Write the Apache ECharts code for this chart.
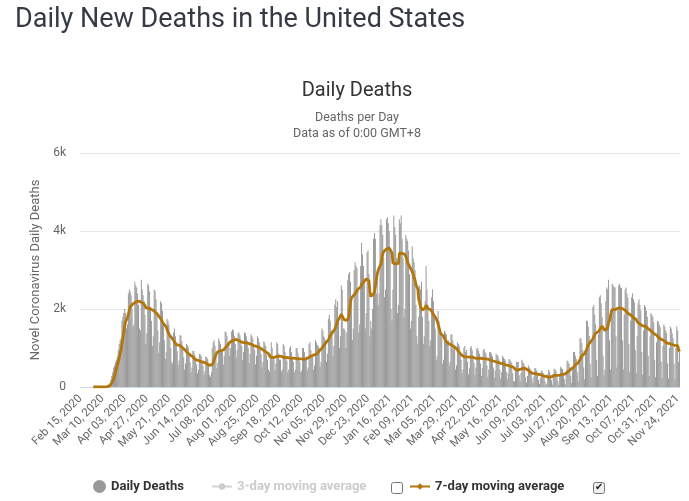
<!DOCTYPE html>
<html>
<head>
<meta charset="utf-8">
<script src="https://cdn.jsdelivr.net/npm/echarts@6/dist/echarts.min.js"></script>
<style>
html,body{margin:0;padding:0;background:#fff;}
#chart{width:689px;height:501px;}
</style>
</head>
<body>
<div id="chart"></div>
<script>
// First date shown and number of daily points (Feb 15, 2020 .. Nov 26, 2021)
var startDate = [2020, 1, 15];
var dayCount = 651;
var yTicks = [0, 2000, 4000, 6000];
var yTickLabels = ['0', '2k', '4k', '6k'];

// Daily deaths, one row per week (Sat..Fri)
var dailyDeaths = [
0,0,0,0,0,0,0,
0,0,0,0,0,0,0,
1,0,3,1,4,1,2,
3,4,4,5,8,7,10,
20,25,40,60,90,180,280,
380,500,560,640,700,780,950,
1100,1200,1250,1700,1800,1900,2000,
1900,1500,1600,2400,2500,2450,2350,
2000,1550,1600,2700,2600,2550,2400,
2100,1500,1450,2750,2500,2350,2200,
1850,1100,1380,2650,2600,2450,2050,
1700,1050,1300,2500,2450,2250,1900,
1450,880,1150,2200,2150,1950,1650,
1200,720,900,1750,1700,1600,1350,
1000,640,600,1400,1500,1300,1150,
920,560,680,1330,1320,1180,1000,
760,450,600,1100,1080,1020,850,
640,380,500,930,920,830,700,
580,350,440,850,840,780,640,
540,320,400,780,760,720,600,
300,260,380,1000,1150,1200,1050,
820,480,620,1250,1180,1100,950,
960,580,800,1420,1400,1300,1150,
1150,800,1000,1420,1480,1450,1300,
1100,750,950,1380,1400,1320,1220,
1050,700,900,1400,1380,1300,1180,
1000,620,850,1350,1300,1250,1050,
950,580,800,1300,1250,1150,970,
840,500,650,1180,1120,1050,820,
700,450,400,850,1150,1000,700,
720,420,600,1150,1100,860,700,
700,400,450,1100,1050,900,720,
680,380,450,1000,1050,900,720,
650,380,440,1000,1000,880,690,
650,380,420,1000,1000,900,690,
700,420,500,1100,1150,950,780,
820,450,550,1200,1150,1080,1050,
1000,520,650,1500,1450,1300,1250,
1200,650,850,1750,1850,1700,1450,
1450,800,1050,2100,2250,2050,2200,
1700,1000,1300,2600,2500,1500,1500,
1450,1000,1400,2750,2900,2950,2700,
2300,1200,1500,3000,3200,3100,3050,
2500,1400,1600,3100,3700,3400,3100,
2700,1500,1900,3450,3500,2900,1300,
1700,1500,2000,3800,3950,3800,2400,
2900,2100,2400,4150,4300,4150,3900,
3300,2300,2500,4300,4350,4200,4000,
3500,2000,1700,2500,4400,4100,3900,
3300,1900,2100,4300,4200,4400,3800,
3300,1800,2000,3900,3800,3750,3500,
2900,1500,1700,3600,3300,3200,3000,
2100,1300,1100,1800,2600,2500,2700,
1800,1100,1300,2200,3100,2500,2100,
1700,1050,1200,2300,2500,2200,1850,
1500,700,800,1950,1700,1500,1400,
1300,600,700,1450,1400,1350,1100,
1200,550,650,1350,1350,1200,980,
1000,450,550,1150,1100,1050,800,
700,350,450,1000,1050,900,950,
650,320,480,1000,1050,950,800,
620,300,500,980,1000,930,850,
600,280,480,950,980,900,850,
550,260,450,900,900,850,780,
500,240,420,850,820,800,710,
450,220,380,800,750,720,670,
400,200,350,720,700,650,620,
350,150,150,500,650,640,640,
300,150,350,700,650,600,540,
250,110,280,550,500,460,370,
220,100,270,480,480,420,340,
180,80,230,420,400,360,290,
150,60,90,330,450,400,305,
170,60,250,470,450,400,300,
160,60,280,520,480,460,350,
200,70,370,680,650,600,510,
280,100,500,900,900,800,720,
380,150,700,1250,1250,1130,950,
500,200,950,1700,1700,1550,1310,
600,250,1200,2050,2100,1850,1610,
700,280,1350,2300,2350,2150,1790,
800,300,450,2200,2550,2500,2750,
1200,450,1850,2650,2600,2550,2560,
1300,500,2000,2600,2650,2550,2540,
1200,450,1850,2500,2550,2400,2280,
1100,400,1700,2300,2400,2250,2170,
950,350,1300,2150,2250,2100,1960,
900,320,1450,2100,2050,1950,1800,
800,280,1300,1900,1850,1800,1660,
700,250,1150,1700,1680,1600,1530,
650,230,1050,1600,1550,1450,1380,
600,220,1000,1550,1500,1370,1250,
600,200,1000,1550,1450,650,900
];

var monthNames = ['Jan','Feb','Mar','Apr','May','Jun','Jul','Aug','Sep','Oct','Nov','Dec'];
var categories = [];
for (var i = 0; i < dayCount; i++) {
  var dt = new Date(Date.UTC(startDate[0], startDate[1], startDate[2] + i));
  var dd = dt.getUTCDate();
  categories.push(monthNames[dt.getUTCMonth()] + ' ' + (dd < 10 ? '0' + dd : dd) + ', ' + dt.getUTCFullYear());
}

// trailing moving averages of the daily values (start once deaths are reported)
function movingAverage(arr, n, firstIdx) {
  var out = [];
  for (var i = 0; i < arr.length; i++) {
    if (i < firstIdx) { out.push(null); continue; }
    var s = 0, c = 0;
    for (var j = Math.max(0, i - n + 1); j <= i; j++) { s += arr[j]; c++; }
    out.push(Math.round(s / c));
  }
  return out;
}
var ma7 = movingAverage(dailyDeaths, 7, 14);
var ma3 = movingAverage(dailyDeaths, 3, 14);

var chart = echarts.init(document.getElementById('chart'));
var fontFam = 'Roboto, "Noto Sans", sans-serif';
var hidden = { '3-day moving average': false };
var legendText = { fontWeight: 'bold', fontSize: 13, color: '#333333', fontFamily: fontFam };
chart.setOption({
  animation: false,
  textStyle: { fontFamily: fontFam },
  title: [
    { text: 'Daily New Deaths in the United States', left: 10, top: 2,
      textStyle: { fontSize: 27, fontWeight: 'normal', color: '#363a45', fontFamily: fontFam } },
    { text: 'Daily Deaths', left: 352, top: 76, textAlign: 'center',
      textStyle: { fontSize: 20, fontWeight: 'normal', color: '#333333', fontFamily: fontFam } },
    { text: 'Deaths per Day\nData as of 0:00 GMT+8', left: 352, top: 105, textAlign: 'center',
      textStyle: { fontSize: 12.5, fontWeight: 'normal', color: '#666666', lineHeight: 16, fontFamily: fontFam } }
  ],
  grid: { left: 80, right: 9, top: 153, bottom: 114 },
  legend: [
    { data: [{ name: 'Daily Deaths', icon: 'circle' }], left: 93, top: 480, padding: 0, itemWidth: 13, itemHeight: 13, itemGap: 5,
      textStyle: legendText, selected: hidden },
    { data: ['3-day moving average'], left: 211, top: 480, padding: 0, itemWidth: 20, itemHeight: 8, inactiveColor: '#cccccc',
      textStyle: legendText, selected: hidden },
    { data: ['7-day moving average'], left: 409, top: 480, padding: 0, itemWidth: 20, itemHeight: 8,
      textStyle: legendText, selected: hidden }
  ],
  graphic: [
    { type: 'rect', left: 391, top: 482, shape: { width: 11, height: 11, r: 2 },
      style: { fill: '#ffffff', stroke: '#767676', lineWidth: 1 } },
    { type: 'rect', left: 593, top: 482, shape: { width: 11, height: 11, r: 2 },
      style: { fill: '#efefef', stroke: '#767676', lineWidth: 1 } },
    { type: 'text', left: 595, top: 482, style: { text: '\u2714', fontSize: 10, fill: '#222222', fontFamily: 'DejaVu Sans' } }
  ],
  xAxis: {
    type: 'category', data: categories, boundaryGap: true,
    axisLine: { lineStyle: { color: '#ccd6eb' } },
    axisTick: { show: false },
    axisLabel: { interval: 23, rotate: 45, fontSize: 11.5, color: '#666666', margin: 10, fontFamily: fontFam }
  },
  yAxis: {
    type: 'value', min: yTicks[0], max: yTicks[yTicks.length - 1], interval: 2000,
    name: 'Novel Coronavirus Daily Deaths', nameLocation: 'middle', nameGap: 38, nameRotate: 90,
    nameTextStyle: { color: '#666666', fontSize: 13, fontFamily: fontFam },
    axisLine: { show: false }, axisTick: { show: false },
    axisLabel: { color: '#666666', fontSize: 12, margin: 14, fontFamily: fontFam,
      formatter: function (v) { var k = yTicks.indexOf(v); return k >= 0 ? yTickLabels[k] : ''; } },
    splitLine: { lineStyle: { color: '#e6e6e6' } }
  },
  series: [
    { name: 'Daily Deaths', type: 'bar', data: dailyDeaths, barCategoryGap: '15%',
      itemStyle: { color: '#999999' } },
    { name: '3-day moving average', type: 'line', data: ma3, symbol: 'circle', symbolSize: 7, showSymbol: false,
      lineStyle: { width: 2, color: '#cccccc' }, itemStyle: { color: '#cccccc' } },
    { name: '7-day moving average', type: 'line', data: ma7, symbol: 'diamond', symbolSize: 8, showSymbol: false,
      lineStyle: { width: 2.8, color: '#b3760a' }, itemStyle: { color: '#b3760a' }, z: 5 }
  ]
});
</script>
</body>
</html>
